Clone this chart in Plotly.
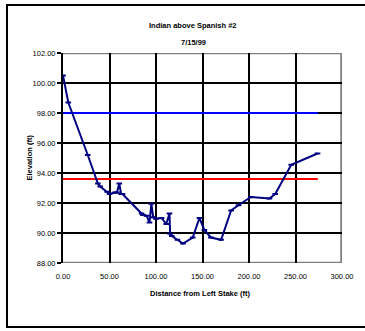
import plotly.graph_objects as go

# ---- data ----
distance_ft = [0, 5.7, 26.6, 37.5, 40, 47.5, 50, 56, 58, 60.5, 62.5, 64,
               84.5, 86, 90, 93, 95, 97, 100, 106, 111, 114.5, 115.2, 117,
               123, 129, 139.5, 146.7, 152, 159, 170, 180.8, 188.7, 202,
               222, 228.2, 245.4, 273.7]
elevation_ft = [100.5, 98.7, 95.2, 93.3, 93.1, 92.75, 92.6, 92.7, 92.7, 93.3,
                92.6, 92.6, 91.3, 91.2, 91.15, 90.7, 91.95, 91.05, 90.95, 91.0,
                90.6, 91.3, 89.95, 89.8, 89.55, 89.3, 89.7, 91.0, 90.2, 89.7,
                89.55, 91.5, 91.85, 92.4, 92.3, 92.6, 94.55, 95.3]
level_x = [0, 274]
upper_level = 98.0
lower_level = 93.6

title_text = "Indian above Spanish #2"
subtitle_text = "7/15/99"
x_title = "Distance from Left Stake (ft)"
y_title = "Elevation (ft)"

FONT = "Liberation Sans, Arial, sans-serif"

fig = go.Figure()
fig.add_trace(go.Scatter(x=level_x, y=[upper_level] * len(level_x), mode="lines",
                         line=dict(color="#0000FF", width=2), hoverinfo="skip"))
fig.add_trace(go.Scatter(x=level_x, y=[lower_level] * len(level_x), mode="lines",
                         line=dict(color="#FF0000", width=2), hoverinfo="skip"))
fig.add_trace(go.Scatter(x=distance_ft, y=elevation_ft, mode="lines+markers",
                         line=dict(color="#000080", width=2),
                         marker=dict(symbol="line-ew", size=4,
                                     line=dict(color="#000080", width=2))))

L, R, T, B = 63, 23, 53, 68
W, H = 365, 331
pw, ph = W - L - R, H - T - B


def px_x(p):
    return (p - L) / pw


def px_y(p):
    return (H - B - p) / ph


frame = dict(color="black", width=2)
fig.update_layout(
    width=W, height=H,
    margin=dict(l=L, r=R, t=T, b=B, pad=0),
    paper_bgcolor="white", plot_bgcolor="white",
    showlegend=False,
    font=dict(family=FONT, size=7.5, color="black"),
    xaxis=dict(range=[0, 300], dtick=50, tick0=0, tickformat=".2f",
               showgrid=True, gridcolor="black", gridwidth=2,
               zeroline=False, showline=False,
               ticks="outside", ticklen=6, tickcolor="rgba(0,0,0,0)",
               tickfont=dict(family=FONT, size=7.5, color="black")),
    yaxis=dict(range=[88, 102], dtick=2, tick0=88, tickformat=".2f",
               showgrid=True, gridcolor="black", gridwidth=2,
               zeroline=False, showline=True, linecolor="black", linewidth=2,
               ticks="outside", ticklen=4, tickwidth=2, tickcolor="black",
               tickfont=dict(family=FONT, size=7.5, color="black")),
    shapes=[
        # plot area borders (gray)
        dict(type="line", xref="x", yref="y", x0=0, x1=300, y0=102, y1=102,
             line=dict(color="#808080", width=2.5), layer="below"),
        dict(type="line", xref="x", yref="y", x0=300, x1=300, y0=88, y1=102,
             line=dict(color="#808080", width=3.5), layer="below"),
        dict(type="line", xref="x", yref="y", x0=0, x1=300, y0=88, y1=88,
             line=dict(color="#808080", width=2.5), layer="below"),
        # outer chart frame (left, top, bottom)
        dict(type="line", xref="paper", yref="paper",
             x0=px_x(7), x1=px_x(7), y0=px_y(327), y1=px_y(5), line=frame),
        dict(type="line", xref="paper", yref="paper",
             x0=px_x(6), x1=px_x(366), y0=px_y(5), y1=px_y(5), line=frame),
        dict(type="line", xref="paper", yref="paper",
             x0=px_x(6), x1=px_x(366), y0=px_y(327), y1=px_y(327), line=frame),
    ],
    annotations=[
        dict(text="<b>" + title_text + "</b>", xref="paper", yref="paper",
             x=px_x(193), y=px_y(19), showarrow=False,
             font=dict(family=FONT, size=7.5)),
        dict(text="<b>" + subtitle_text + "</b>", xref="paper", yref="paper",
             x=px_x(193), y=px_y(36), showarrow=False,
             font=dict(family=FONT, size=7.5)),
        dict(text="<b>" + x_title + "</b>", xref="paper", yref="paper",
             x=px_x(200), y=px_y(300), showarrow=False,
             font=dict(family=FONT, size=7.5)),
        dict(text="<b>" + y_title + "</b>", xref="paper", yref="paper",
             x=px_x(22), y=px_y(158), showarrow=False, textangle=-90,
             font=dict(family=FONT, size=7.5)),
    ],
)

fig.write_html(
    "out.html",
    config={"displayModeBar": False},
    post_script=("document.documentElement.style.margin='0';"
                 "document.documentElement.style.overflow='hidden';"
                 "document.body.style.margin='0';"
                 "document.body.style.overflow='hidden';"),
)
